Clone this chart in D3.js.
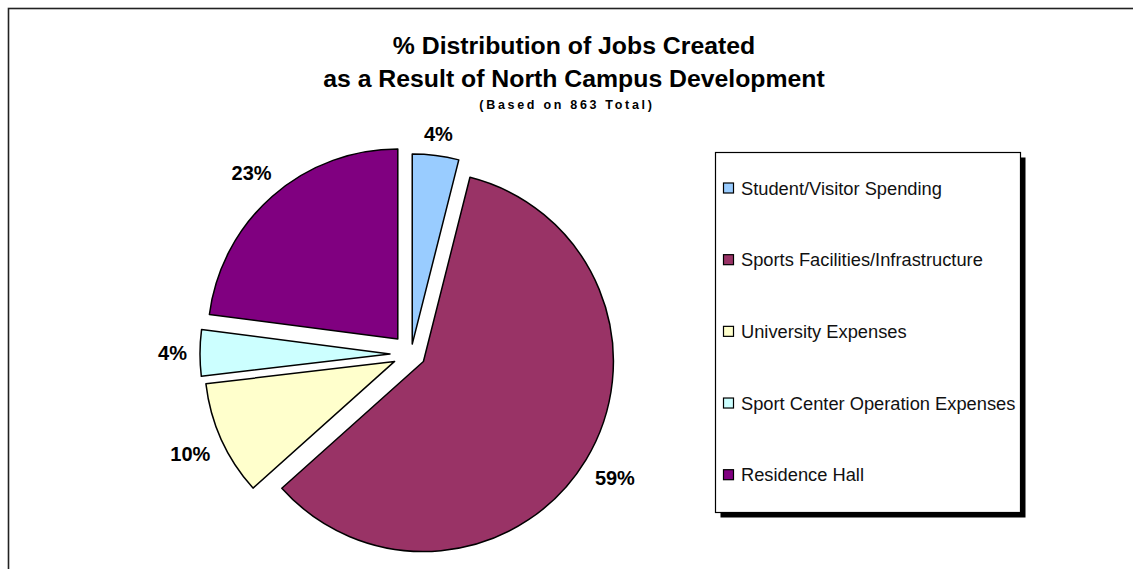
<!DOCTYPE html>
<html>
<head>
<meta charset="utf-8">
<script src="https://cdn.jsdelivr.net/npm/d3@7"></script>
<style>
  html, body { margin: 0; padding: 0; background: #fff; }
  svg { display: block; font-family: "Liberation Sans", Arial, sans-serif; }
</style>
</head>
<body>
<svg id="chart"></svg>
<script>
const categories = [
    "Student/Visitor Spending",
    "Sports Facilities/Infrastructure",
    "University Expenses",
    "Sport Center Operation Expenses",
    "Residence Hall",
];
const jobs = [34, 513, 84, 34, 198];
const colors = ["#99CCFF", "#993366", "#FFFFCC", "#CCFFFF", "#800080"];
const titleLines = ["% Distribution of Jobs Created", "as a Result of North Campus Development"];
const subtitle = "(Based on 863 Total)";

// how far each slice is pulled out of the pie (px)
const explode = [10, 14.5, 18, 21, 20];

const width = 1133;
const height = 569;
const cx = 411, cy = 354, radius = 190;

const total = d3.sum(jobs);
const pct = d3.format(".0%");

const data = categories.map((name, i) => ({ name, value: jobs[i], color: colors[i], explode: explode[i] }));

const svg = d3.select("#chart")
    .attr("width", width)
    .attr("height", height)
    .attr("viewBox", [0, 0, width, height]);

svg.append("rect")
    .attr("width", width)
    .attr("height", height)
    .attr("fill", "#fff");

// outer chart frame (runs off the right and bottom edges)
svg.append("rect")
    .attr("x", 8.5)
    .attr("y", 8.5)
    .attr("width", 1300)
    .attr("height", 1000)
    .attr("fill", "none")
    .attr("stroke", "#222")
    .attr("stroke-width", 1.6);

// title
svg.append("g")
    .selectAll("text")
    .data(titleLines)
    .join("text")
    .attr("x", 574)
    .attr("y", (d, i) => 54 + i * 33)
    .attr("text-anchor", "middle")
    .attr("font-size", 24.8)
    .attr("font-weight", "bold")
    .text(d => d);

svg.append("text")
    .attr("x", 567)
    .attr("y", 109)
    .attr("text-anchor", "middle")
    .attr("font-size", 12.5)
    .attr("font-weight", "bold")
    .attr("letter-spacing", 2.7)
    .text(subtitle);

// pie
const pie = d3.pie()
    .sort(null)
    .value(d => d.value);

const arc = d3.arc()
    .innerRadius(0)
    .outerRadius(radius);

const arcs = pie(data);

const dir = a => {
    const mid = (a.startAngle + a.endAngle) / 2;
    return [Math.sin(mid), -Math.cos(mid)];
};

const slices = svg.append("g")
    .attr("transform", `translate(${cx},${cy})`);

slices.selectAll("path")
    .data(arcs)
    .join("path")
    .attr("transform", d => {
        const [dx, dy] = dir(d);
        return `translate(${dx * d.data.explode},${dy * d.data.explode})`;
    })
    .attr("d", arc)
    .attr("fill", d => d.data.color)
    .attr("stroke", "#000")
    .attr("stroke-width", 1.5)
    .attr("stroke-linejoin", "round");

// percentage labels, placed just outside each slice
const labelSize = 20;
const capH = labelSize * 0.716;
const gap = 13;

const labels = slices.selectAll("text")
    .data(arcs)
    .join("text")
    .attr("font-size", labelSize)
    .attr("font-weight", "bold")
    .attr("text-anchor", "middle")
    .text(d => pct(d.data.value / total));

labels.each(function(d) {
    const w = this.getComputedTextLength();
    const [dx, dy] = dir(d);
    const proj = Math.abs(dx) * w / 2 + Math.abs(dy) * capH / 2;
    const dist = radius + d.data.explode + gap + proj;
    d3.select(this)
        .attr("x", dx * dist)
        .attr("y", dy * dist + capH / 2);
});

// legend
const legX = 715.5, legY = 152.5, legW = 305, legH = 360;

svg.append("rect")
    .attr("x", legX + 5)
    .attr("y", legY + 5)
    .attr("width", legW)
    .attr("height", legH)
    .attr("fill", "#000");

svg.append("rect")
    .attr("x", legX)
    .attr("y", legY)
    .attr("width", legW)
    .attr("height", legH)
    .attr("fill", "#fff")
    .attr("stroke", "#000")
    .attr("stroke-width", 1.2);

const ly = d3.scalePoint()
    .domain(categories)
    .range([188, 474.7]);

const item = svg.append("g")
    .selectAll("g")
    .data(data)
    .join("g")
    .attr("transform", d => `translate(0,${ly(d.name)})`);

item.append("rect")
    .attr("x", 723.5)
    .attr("y", -5)
    .attr("width", 10)
    .attr("height", 10)
    .attr("fill", d => d.color)
    .attr("stroke", "#000")
    .attr("stroke-width", 1.2);

item.append("text")
    .attr("x", 741)
    .attr("y", 6.5)
    .attr("font-size", 18.3)
    .attr("fill", "#111")
    .text(d => d.name);
</script>
</body>
</html>
